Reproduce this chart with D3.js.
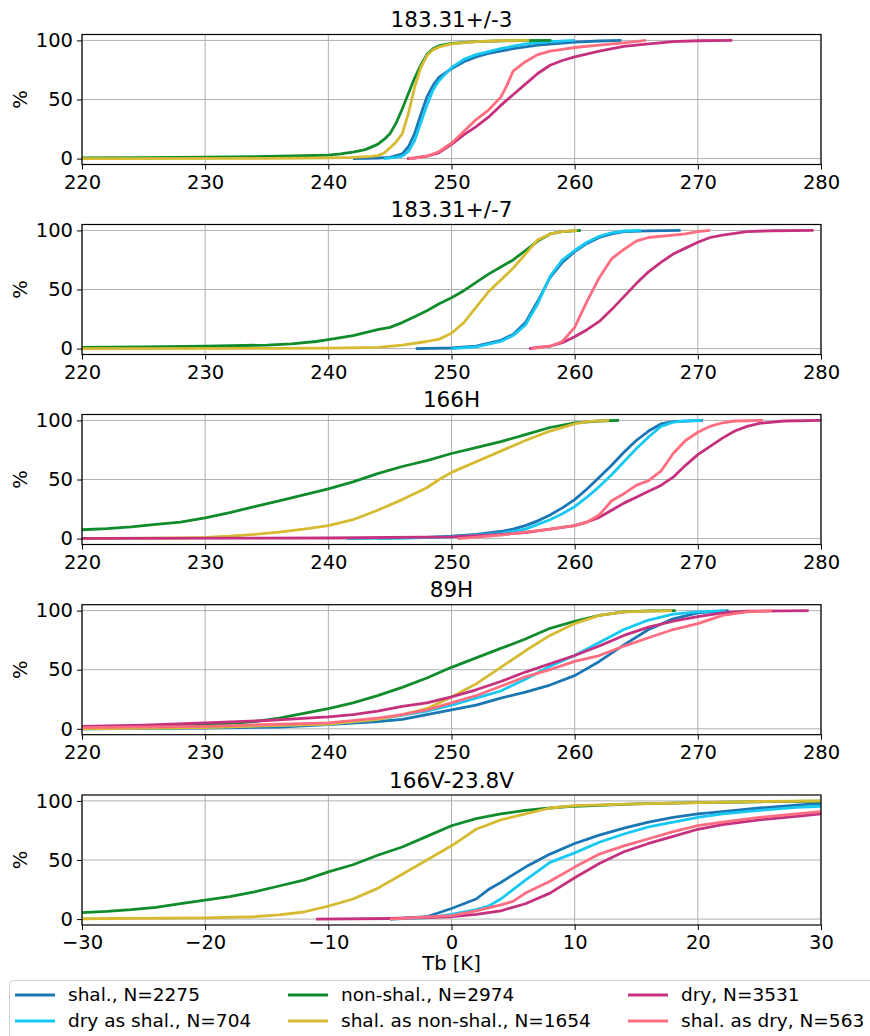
<!DOCTYPE html>
<html>
<head>
<meta charset="utf-8">
<script src="https://cdn.jsdelivr.net/npm/d3@7"></script>
<style>
  body { margin: 0; background: #fff; }
  svg { display: block; font-family: "DejaVu Sans", sans-serif; }
</style>
</head>
<body>
<svg id="chart" width="870" height="1036"></svg>
<script>
// ---- Data ----
const seriesNames = ["shal., N=2275", "dry as shal., N=704", "non-shal., N=2974",
                     "shal. as non-shal., N=1654", "dry, N=3531", "shal. as dry, N=563"];
const seriesColors = ["#1b76b4", "#16c8f2", "#108c2c", "#d5ba32", "#c5317e", "#fe6d80"];
const panelTitles = ["183.31+/-3", "183.31+/-7", "166H", "89H", "166V-23.8V"];
const xDomains = [[220, 280], [220, 280], [220, 280], [220, 280], [-30, 30]];
const xTicksTb = [220, 230, 240, 250, 260, 270, 280];
const xTicksDiff = [-30, -20, -10, 0, 10, 20, 30];
const yTicks = [0, 50, 100];

// Panel 1: 183.31+/-3  (order: shal, dry as shal, non-shal, shal as non-shal, dry, shal as dry)
const p1_shal = [[242,0],[244,0.5],[245,1],[246,4],[246.5,10],[247,21],[247.5,37],[248,52],[248.5,62],[249,69],[250,76],[251,82],[252,86],[253,89],[255,93],[257,96],[260,98.5],[262,99.5],[263.8,100]];
const p1_dryShal = [[244.5,0],[245.5,1],[246,2],[246.5,6],[247,15],[247.5,30],[248,45],[248.5,58],[249,66],[250,77],[251,84],[252,88],[254,93],[256,97],[258,99],[260,100]];
const p1_non = [[220,0.5],[225,0.8],[230,1.2],[235,1.8],[238,2.4],[240,3],[241,4],[242,5.5],[243,7.6],[244,12],[244.5,16],[245,21],[245.5,30],[246,42],[246.5,55],[247,68],[247.5,79],[248,88],[248.5,93],[249,95.5],[250,97.5],[252,99],[255,99.8],[258.1,100]];
const p1_shalNon = [[220,0],[235,0.2],[240,0.6],[242,1],[243.5,1.8],[244,2.5],[244.5,4.5],[245,9],[245.5,14],[246,21],[246.5,38],[247,60],[247.5,77],[248,87],[248.5,92],[249,94.5],[250,97],[252,99],[254,99.7],[256.3,100]];
const p1_dry = [[246.4,0],[247,0.5],[248,2],[249,5],[250,12],[251,20],[252,27],[253,35],[254,45],[255,54],[256,63],[257,72],[258,79],[259,83],[260,86],[262,91],[264,95],[266,97],[268,99],[270,99.7],[272.8,100]];
const p1_shalDry = [[246.5,0],[247.5,1],[248,2],[249,6],[250,13],[251,23],[252,33],[253,41],[254,52],[254.5,62],[255,74],[256,82],[257,88],[258,91],[259,92.5],[260,94],[262,96],[264,98],[265.8,100]];
const panel1 = [p1_shal, p1_dryShal, p1_non, p1_shalNon, p1_dry, p1_shalDry];

// Panel 2: 183.31+/-7
const p2_shal = [[247.1,0],[250,0.5],[252,2],[254,7],[255,12],[256,22],[257,40],[258,60],[259,73],[260,82],[261,89],[262,94],[263,97],[264,99],[266,99.6],[268.6,100]];
const p2_dryShal = [[250,0],[252,1.5],[254,6],[255,11],[256,20],[257,38],[258,61],[259,75],[260,83],[261,90],[262,95],[263,98],[264,99.5],[265.4,100]];
const p2_non = [[220,1],[225,1.5],[230,2],[235,3],[237,4],[239,6],[240,7.6],[242,11],[244,16],[245,18],[246,22],[247,27],[248,32],[249,38],[250,43],[251,49],[252,56],[253,63],[254,69],[255,75],[256,83],[257,91],[258,97],[259,99],[260.5,100]];
const p2_shalNon = [[220,0],[235,0.2],[240,0.4],[244,1],[246,3],[248,6],[249,8],[250,13],[251,22],[252,35],[253,48],[254,58],[255,68],[256,80],[257,92],[258,97],[259,99],[260.2,100]];
const p2_dry = [[256.3,0],[257,1],[258,2],[259,5],[260,10],[261,16],[262,23],[263,33],[264,44],[265,55],[266,65],[267,73],[268,80],[269,85],[270,90],[271,94],[272,96],[274,99],[276,99.7],[279.4,100]];
const p2_shalDry = [[256.5,0],[258,2],[259,6],[260,18],[261,40],[262,60],[263,76],[264,84],[265,91],[266,94],[268,96],[269,97],[270,99],[271,100]];
const panel2 = [p2_shal, p2_dryShal, p2_non, p2_shalNon, p2_dry, p2_shalDry];

// Panel 3: 166H
const p3_shal = [[244,0.3],[248,1],[250,2],[252,3.5],[254,6],[255,8],[256,11],[257,15],[258,20],[259,26],[260,33],[261,42],[262,52],[263,62],[264,73],[265,83],[266,91],[267,97],[268,99],[270.4,100]];
const p3_dryShal = [[241.5,0],[246,0.5],[250,1.5],[254,4.5],[256,8],[257,12],[258,16],[259,21],[260,27],[261,35],[262,44],[263,54],[264,65],[265,76],[266,86],[267,95],[268,98.5],[269,99.5],[270.3,100]];
const p3_non = [[220,7.5],[222,8.5],[224,10],[226,12],[228,14],[230,17.5],[232,22],[234,27],[236,32],[238,37],[240,42],[242,48],[244,55],[246,61],[248,66],[250,72],[252,77],[254,82],[256,88],[258,94],[260,98],[262,99.5],[263.6,100]];
const p3_shalNon = [[220,0],[228,0.5],[230,1],[232,2],[234,3.5],[236,5.5],[238,8],[240,11],[242,16],[244,24],[246,33],[248,43],[249,50],[250,56],[252,65],[254,74],[256,83],[258,91],[260,97],[261,99],[262.8,100]];
const p3_dry = [[220,0.2],[240,0.5],[250,1.5],[254,3.5],[256,5],[258,8],[260,11],[261,14],[262,18],[263,24],[264,30],[265,35],[266,40],[267,45],[268,52],[269,62],[270,71],[271,78],[272,85],[273,91],[274,95],[275,97.5],[277,99.5],[280,100]];
const p3_shalDry = [[250.5,0],[254,3],[256,5.5],[258,8],[260,11],[261,14],[262,20],[263,32],[264,38],[265,45],[266,49],[267,57],[268,72],[269,83],[270,90],[271,95],[272,98],[273,99.5],[275.3,100]];
const panel3 = [p3_shal, p3_dryShal, p3_non, p3_shalNon, p3_dry, p3_shalDry];

// Panel 4: 89H
const p4_shal = [[220,0],[230,0.5],[236,1.5],[240,3.5],[244,6],[246,8],[248,12],[250,16],[252,20],[254,26],[256,31],[258,37],[260,45],[262,57],[264,71],[266,84],[268,93],[270,98],[272.5,100]];
const p4_dryShal = [[220,0],[230,1],[240,4],[244,8],[248,15],[250,20],[252,26],[254,32],[256,42],[258,53],[260,62],[262,73],[264,84],[266,92],[268,97],[270,99],[272.3,100]];
const p4_non = [[220,0.5],[225,1.5],[230,3],[234,6],[236,9],[238,13],[240,17],[242,22],[244,28],[246,35],[248,43],[250,52],[252,60],[254,68],[256,76],[258,85],[260,91],[262,96],[264,99],[266,99.7],[268.2,100]];
const p4_shalNon = [[220,0],[230,1],[240,4],[244,8],[246,12],[248,17],[250,27],[252,38],[254,52],[256,66],[258,79],[260,89],[262,96],[264,99],[267.9,100]];
const p4_dry = [[220,2],[225,3],[230,5],[235,7],[240,10],[242,12],[244,15],[246,19],[248,22],[250,27],[252,33],[254,40],[256,48],[258,55],[260,62],[262,70],[264,79],[266,86],[268,91],[270,95],[272,98],[274,99.5],[279,100]];
const p4_shalDry = [[220,1],[230,2],[240,5],[244,9],[246,12],[248,16],[250,22],[252,28],[254,36],[256,44],[258,50],[260,57],[262,62],[264,70],[266,77],[268,84],[270,89],[272,96],[274,99],[276,100]];
const panel4 = [p4_shal, p4_dryShal, p4_non, p4_shalNon, p4_dry, p4_shalDry];

// Panel 5: 166V-23.8V
const p5_shal = [[-5,0],[-2,2],[0,9],[2,17],[3,25],[4,31],[6,44],[8,55],[10,64],[12,71],[14,77],[16,82],[18,86],[20,89],[22,91],[25,94],[28,96.5],[30,98]];
const p5_dryShal = [[-5,0],[-2,1],[0,4],[2,8],[3,11],[4,17],[6,33],[8,48],[10,56],[12,65],[14,72],[16,78],[18,82],[20,86],[22,89],[25,92],[28,94.5],[30,95.5]];
const p5_non = [[-30,5.5],[-28,6.5],[-26,8],[-24,10],[-22,13],[-20,16],[-18,19],[-16,23],[-14,28],[-12,33],[-10,40],[-8,46],[-6,54],[-4,61],[-2,70],[0,79],[2,85],[4,89],[6,92],[8,94],[10,95.5],[15,97.5],[20,98.5],[25,99.3],[30,99.7]];
const p5_shalNon = [[-30,0.3],[-20,1],[-16,2],[-14,3.5],[-12,6],[-10,11],[-8,17],[-6,26],[-4,38],[-2,50],[0,62],[2,76],[4,84],[6,89],[8,94],[10,96],[15,97.5],[20,98.5],[25,99.5],[30,100]];
const p5_dry = [[-11,0],[-5,0.5],[0,2],[2,4],[4,7],[6,13],[8,22],[10,35],[12,47],[14,57],[16,64],[18,70],[20,76],[22,80],[25,84],[28,87],[30,89]];
const p5_shalDry = [[-5,0],[0,3],[2,7],[4,12],[5,15],[6,22],[8,32],[10,44],[12,55],[14,62],[16,68],[18,74],[20,79],[22,82],[25,86],[28,89],[30,91]];
const panel5 = [p5_shal, p5_dryShal, p5_non, p5_shalNon, p5_dry, p5_shalDry];

const panels = [panel1, panel2, panel3, panel4, panel5];

// ---- Layout ----
const svg = d3.select("#chart");
const axLeft = 82, axRight = 821, axH = 130;
const axTops = [34.5, 224.5, 414.5, 604.7, 795];
const tickFont = 19.5, titleFont = 21.5, legendFont = 18.5;

svg.append("rect").attr("width", 870).attr("height", 1036).attr("fill", "#fff");

const line = d3.line().curve(d3.curveLinear);

panels.forEach((series, i) => {
  const top = axTops[i];
  const x = d3.scaleLinear().domain(xDomains[i]).range([axLeft, axRight]);
  const y = d3.scaleLinear().domain([-5, 105]).range([top + axH, top]);
  const g = svg.append("g");

  // grid
  const xt = i < 4 ? xTicksTb : xTicksDiff;
  g.append("g").selectAll("line").data(xt).join("line")
    .attr("x1", d => x(d)).attr("x2", d => x(d))
    .attr("y1", top).attr("y2", top + axH)
    .attr("stroke", "#b0b0b0").attr("stroke-width", 1);
  g.append("g").selectAll("line").data(yTicks).join("line")
    .attr("x1", axLeft).attr("x2", axRight)
    .attr("y1", d => y(d)).attr("y2", d => y(d))
    .attr("stroke", "#b0b0b0").attr("stroke-width", 1);

  // clip
  const cid = "clip" + i;
  svg.append("clipPath").attr("id", cid).append("rect")
    .attr("x", axLeft).attr("y", top).attr("width", axRight - axLeft).attr("height", axH);

  const lg = g.append("g").attr("clip-path", `url(#${cid})`);
  series.forEach((pts, k) => {
    lg.append("path")
      .attr("d", line(pts.map(p => [x(p[0]), y(p[1])])))
      .attr("fill", "none")
      .attr("stroke", seriesColors[k])
      .attr("stroke-width", 2.8)
      .attr("stroke-linejoin", "round")
      .attr("stroke-linecap", "butt");
  });

  // axes
  const xAxis = d3.axisBottom(x).tickValues(xt).tickSize(5).tickPadding(4)
    .tickFormat(d => d < 0 ? "\u2212" + Math.abs(d) : String(d));
  const gx = g.append("g").attr("transform", `translate(0,${top + axH})`).call(xAxis);
  const yAxis = d3.axisLeft(y).tickValues(yTicks).tickSize(5).tickPadding(4);
  const gy = g.append("g").attr("transform", `translate(${axLeft},0)`).call(yAxis);
  [gx, gy].forEach(a => {
    a.select(".domain").remove();
    a.selectAll("text").attr("font-size", tickFont).attr("font-family", "DejaVu Sans").attr("fill", "#000");
    a.selectAll("line").attr("stroke", "#000").attr("stroke-width", 1);
  });
  gx.selectAll("text").attr("dy", "0.78em");

  // frame
  g.append("rect").attr("x", axLeft).attr("y", top)
    .attr("width", axRight - axLeft).attr("height", axH)
    .attr("fill", "none").attr("stroke", "#000").attr("stroke-width", 1.2);

  // title
  g.append("text").attr("x", (axLeft + axRight) / 2).attr("y", top - 7.5)
    .attr("text-anchor", "middle").attr("font-size", titleFont).text(panelTitles[i]);

  // y label
  g.append("text")
    .attr("transform", `translate(27,${top + axH / 2}) rotate(-90)`)
    .attr("text-anchor", "middle").attr("font-size", tickFont).text("%");
});

// x label
svg.append("text").attr("x", (axLeft + axRight) / 2).attr("y", 970)
  .attr("text-anchor", "middle").attr("font-size", tickFont).text("Tb [K]");

// legend
const leg = svg.append("g");
leg.append("rect").attr("x", 9.5).attr("y", 980.5).attr("width", 870).attr("height", 70)
  .attr("rx", 4).attr("fill", "#fff").attr("fill-opacity", 0.8)
  .attr("stroke", "#d0d0d0").attr("stroke-width", 1);
const colX = [15, 288, 628];
const rowY = [995, 1021];
seriesNames.forEach((name, k) => {
  const c = Math.floor(k / 2), r = k % 2;
  leg.append("line").attr("x1", colX[c]).attr("x2", colX[c] + 40)
    .attr("y1", rowY[r]).attr("y2", rowY[r])
    .attr("stroke", seriesColors[k]).attr("stroke-width", 2.8);
  leg.append("text").attr("x", colX[c] + 53).attr("y", rowY[r])
    .attr("dy", "0.35em").attr("font-size", legendFont).text(name);
});
</script>
</body>
</html>
